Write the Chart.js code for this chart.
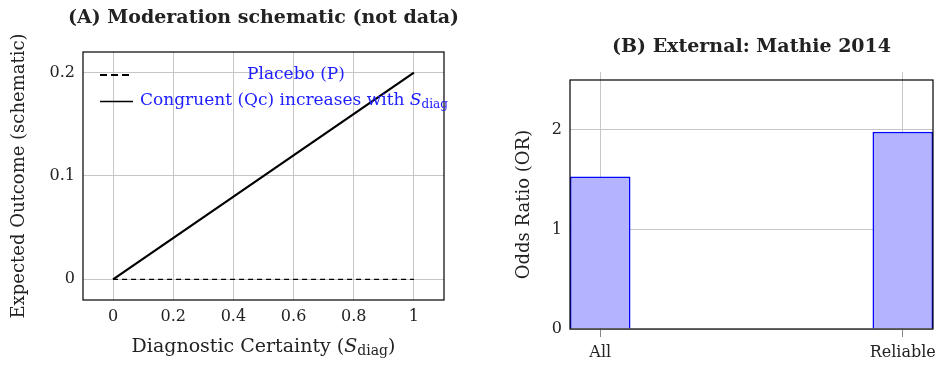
<!DOCTYPE html>
<html>
<head>
<meta charset="utf-8">
<script src="https://cdn.jsdelivr.net/npm/chart.js@4.4.1/dist/chart.umd.min.js"></script>
<style>
    body { margin: 0; background: #fff; }
    #wrap { position: relative; width: 943px; height: 366px; }
    #chartA { position: absolute; left: 0; top: 0; }
    #chartB { position: absolute; left: 480px; top: 0; }
</style>
</head>
<body>
<div id="wrap">
    <canvas id="chartA" width="470" height="366"></canvas>
    <canvas id="chartB" width="463" height="366"></canvas>
</div>
<script>
// panel A: schematic lines
const sDiag = [0, 1];
const placeboOutcome = [0, 0];
const congruentOutcome = [0, 0.2];
const xTicksA = [0, 0.2, 0.4, 0.6, 0.8, 1];
const yTicksA = [0, 0.1, 0.2];

// panel B: Mathie 2014 odds ratios
const studySets = ['All', 'Reliable'];
const oddsRatios = [1.53, 1.98];
const yTicksB = [0, 1, 2];

const SERIF = "'DejaVu Serif', 'Liberation Serif', serif";
const GRID = '#c6c6c6';
const INK = '#222';
const BLUE = '#2020ff';

Chart.defaults.font.family = SERIF;
Chart.defaults.color = INK;

function fixTicks(values) {
    return (scale) => { scale.ticks = values.map(v => ({ value: v })); };
}

// black box round the plot area
const frame = {
    id: 'frame',
    afterDraw(chart) {
        const a = chart.chartArea;
        const ctx = chart.ctx;
        ctx.save();
        ctx.strokeStyle = '#000';
        ctx.lineWidth = 1.2;
        ctx.strokeRect(a.left, a.top, a.right - a.left, a.bottom - a.top);
        ctx.restore();
    }
};

function drawTitle(chart, text) {
    const a = chart.chartArea;
    const ctx = chart.ctx;
    ctx.save();
    ctx.font = 'bold 19px ' + SERIF;
    ctx.fillStyle = INK;
    ctx.textAlign = 'center';
    ctx.textBaseline = 'middle';
    ctx.fillText(text, (a.left + a.right) / 2, chart.options.plugins.frameTitle.y);
    ctx.restore();
}

// writes pieces of text one after another, some italic or lowered
function drawRuns(ctx, runs, x, y, align) {
    let total = 0;
    runs.forEach(r => { ctx.font = r.font; total += ctx.measureText(r.text).width; });
    let cx = align === 'center' ? x - total / 2 : x;
    ctx.textAlign = 'left';
    runs.forEach(r => {
        ctx.font = r.font;
        ctx.fillText(r.text, cx, y + (r.dy || 0));
        cx += ctx.measureText(r.text).width;
    });
}

const panelA = {
    id: 'panelA',
    afterDraw(chart) {
        const a = chart.chartArea;
        const ctx = chart.ctx;
        drawTitle(chart, '(A) Moderation schematic (not data)');

        ctx.save();
        ctx.textBaseline = 'middle';
        ctx.fillStyle = INK;
        drawRuns(ctx, [
            { text: 'Diagnostic Certainty (', font: '19px ' + SERIF },
            { text: 'S', font: 'italic 19px ' + SERIF },
            { text: 'diag', font: '14px ' + SERIF, dy: 4 },
            { text: ')', font: '19px ' + SERIF }
        ], (a.left + a.right) / 2, 347, 'center');

        // legend
        const lx = a.left + 17;
        ctx.strokeStyle = '#000';
        ctx.lineWidth = 2.2;
        ctx.setLineDash([7, 4]);
        ctx.beginPath();
        ctx.moveTo(lx, a.top + 23);
        ctx.lineTo(lx + 32, a.top + 23);
        ctx.stroke();
        ctx.setLineDash([]);
        ctx.lineWidth = 1.3;
        ctx.beginPath();
        ctx.moveTo(lx, a.top + 49.5);
        ctx.lineTo(lx + 33, a.top + 49.5);
        ctx.stroke();

        ctx.fillStyle = BLUE;
        drawRuns(ctx, [{ text: 'Placebo (P)', font: '17px ' + SERIF }], 296, a.top + 23, 'center');
        drawRuns(ctx, [
            { text: 'Congruent (Qc) increases with ', font: '17px ' + SERIF },
            { text: 'S', font: 'italic 17px ' + SERIF },
            { text: 'diag', font: '12px ' + SERIF, dy: 4 }
        ], lx + 40, a.top + 49, 'left');
        ctx.restore();
    }
};

const panelB = {
    id: 'panelB',
    afterDraw(chart) {
        drawTitle(chart, '(B) External: Mathie 2014');
    }
};

new Chart(document.getElementById('chartA'), {
    type: 'line',
    data: {
        datasets: [{
            label: 'Placebo (P)',
            data: sDiag.map((x, i) => ({ x: x, y: placeboOutcome[i] })),
            borderColor: '#000',
            borderWidth: 1.2,
            borderDash: [5, 4],
            pointRadius: 0
        }, {
            label: 'Congruent (Qc) increases with Sdiag',
            data: sDiag.map((x, i) => ({ x: x, y: congruentOutcome[i] })),
            borderColor: '#000',
            borderWidth: 2.2,
            pointRadius: 0
        }]
    },
    options: {
        responsive: false,
        animation: false,
        devicePixelRatio: 1,
        layout: { padding: { top: 52, right: 26, left: 0, bottom: 0 } },
        plugins: {
            legend: { display: false },
            tooltip: { enabled: false },
            frameTitle: { y: 18 }
        },
        scales: {
            x: {
                type: 'linear',
                min: -0.1,
                max: 1.1,
                afterBuildTicks: fixTicks(xTicksA),
                afterFit: (s) => { s.height = 66; },
                grid: { color: GRID, drawTicks: false },
                border: { display: false },
                ticks: {
                    padding: 7,
                    font: { size: 16 },
                    callback: (v) => String(+v.toFixed(1))
                }
            },
            y: {
                min: -0.02,
                max: 0.22,
                afterBuildTicks: fixTicks(yTicksA),
                afterFit: (s) => { s.width = 83; },
                grid: { color: GRID, drawTicks: false },
                border: { display: false },
                ticks: {
                    padding: 8,
                    font: { size: 16 },
                    callback: (v) => String(+v.toFixed(2))
                },
                title: {
                    display: true,
                    text: 'Expected Outcome (schematic)',
                    font: { size: 18 },
                    padding: { top: 9 }
                }
            }
        }
    },
    plugins: [frame, panelA]
});

new Chart(document.getElementById('chartB'), {
    type: 'bar',
    data: {
        datasets: [{
            label: 'Odds Ratio (OR)',
            data: studySets.map((s, i) => ({ x: i, y: oddsRatios[i] })),
            backgroundColor: '#b3b3ff',
            borderColor: '#0000ff',
            borderWidth: 1.6,
            barPercentage: 0.2,
            categoryPercentage: 1
        }]
    },
    options: {
        responsive: false,
        animation: false,
        devicePixelRatio: 1,
        layout: { padding: { top: 72, right: 10, left: 0, bottom: 0 } },
        plugins: {
            legend: { display: false },
            tooltip: { enabled: false },
            frameTitle: { y: 47 }
        },
        scales: {
            x: {
                type: 'linear',
                offset: false,
                min: -0.1,
                max: 1.1,
                afterBuildTicks: fixTicks(studySets.map((s, i) => i)),
                afterFit: (s) => { s.height = 37; },
                grid: { offset: false, color: GRID, tickColor: '#888', tickLength: 8 },
                border: { display: false },
                ticks: {
                    padding: 6,
                    font: { size: 16 },
                    callback: (v) => studySets[v]
                }
            },
            x2: {
                type: 'linear',
                position: 'top',
                offset: false,
                min: -0.1,
                max: 1.1,
                afterBuildTicks: fixTicks(studySets.map((s, i) => i)),
                afterFit: (s) => { s.height = 8; },
                grid: { offset: false, drawOnChartArea: false, tickColor: GRID, tickLength: 8 },
                border: { display: false },
                ticks: { display: false }
            },
            y: {
                min: 0,
                max: 2.5,
                afterBuildTicks: fixTicks(yTicksB),
                afterFit: (s) => { s.width = 90; },
                grid: { color: GRID, drawTicks: false },
                border: { display: false },
                ticks: { padding: 8, font: { size: 16 } },
                title: {
                    display: true,
                    text: 'Odds Ratio (OR)',
                    font: { size: 18 },
                    padding: { top: 34 }
                }
            }
        }
    },
    plugins: [frame, panelB]
});
</script>
</body>
</html>
